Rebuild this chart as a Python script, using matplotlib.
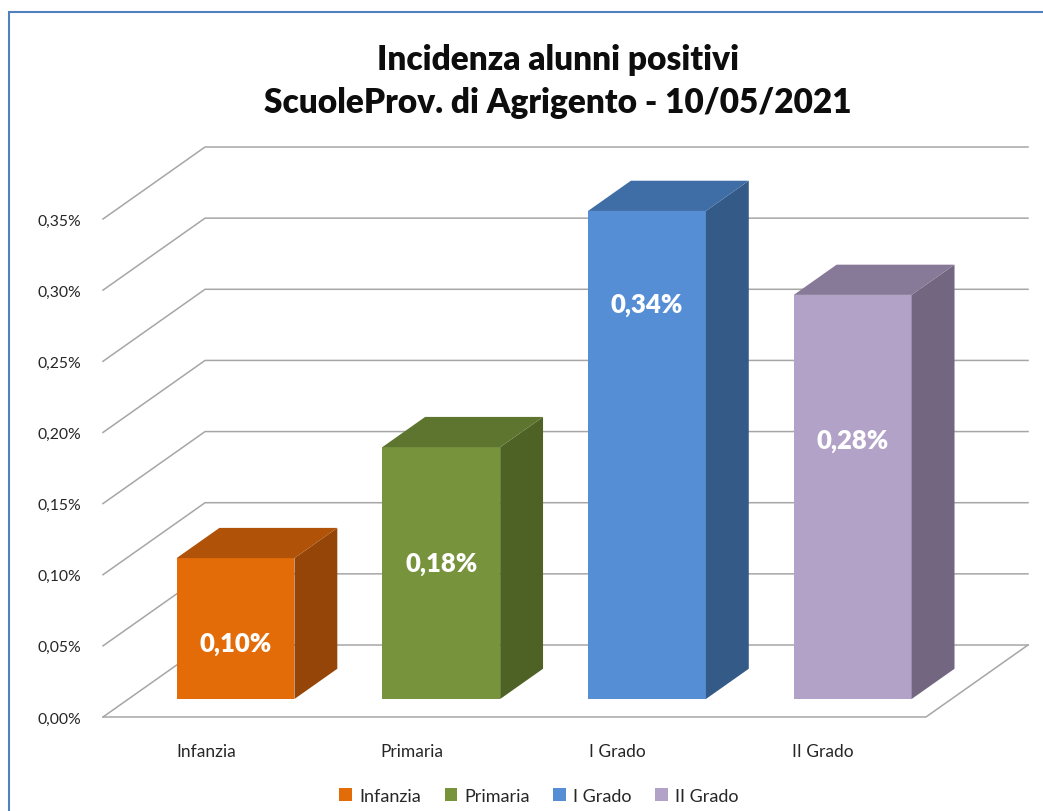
import matplotlib
matplotlib.use("Agg")
import matplotlib.pyplot as plt
from matplotlib.patches import Polygon, Patch, Rectangle

plt.rcParams['font.family'] = ['Lato', 'DejaVu Sans']

categories = ['Infanzia', 'Primaria', 'I Grado', 'II Grado']
values = [0.099, 0.177, 0.343, 0.284]          # percent
y_ticks = [0.00, 0.05, 0.10, 0.15, 0.20, 0.25, 0.30, 0.35]
title_lines = ['Incidenza alunni positivi', 'ScuoleProv. di Agrigento - 10/05/2021']

# colours: front, top, side
front_cols = ['#E36C09', '#77933C', '#558ED5', '#B3A2C7']
top_cols = ['#B05309', '#5E7530', '#3F6DA6', '#877A98']
side_cols = ['#944507', '#4E6226', '#345A88', '#726680']
label_frac = [0.40, 0.54, 0.81, 0.64]   # where Excel put the value labels

# oblique projection of the depth axis, in data units
DX, DY = 0.496, 0.0506
bar_w = 0.573
bar_shift = 0.02
z0, z1 = 0.25, 0.67     # bar front / back depth (fraction)
grid_col = '#a6a6a6'

W, H = 1043, 812
fig = plt.figure(figsize=(W / 100, H / 100), dpi=100)
ax = fig.add_axes([103 / W, (H - 718) / H, (1028 - 103) / W, (718 - 148) / H])
x_lo, x_hi = -0.5, len(categories) - 0.5
ax.set_xlim(x_lo, x_hi + DX)
ax.set_ylim(0, y_ticks[-1] + DY)
for s in ax.spines.values():
    s.set_visible(False)

# walls / gridlines
for v in y_ticks:
    ax.plot([x_lo, x_lo + DX, x_hi + DX], [v, v + DY, v + DY],
            color=grid_col, lw=1.1, zorder=1, clip_on=False)
# floor
ax.plot([x_lo, x_hi, x_hi + DX], [0, 0, DY], color=grid_col, lw=1.1,
        zorder=1, clip_on=False)

for i, v in enumerate(values):
    xa = i - bar_w / 2 + z0 * DX + bar_shift
    xb = i + bar_w / 2 + z0 * DX + bar_shift
    yb = z0 * DY
    yt = v + z0 * DY
    ddx = (z1 - z0) * DX
    ddy = (z1 - z0) * DY
    front = Polygon([(xa, yb), (xb, yb), (xb, yt), (xa, yt)], closed=True,
                    fc=front_cols[i], ec='none', zorder=3)
    side = Polygon([(xb, yb), (xb + ddx, yb + ddy), (xb + ddx, yt + ddy), (xb, yt)],
                   closed=True, fc=side_cols[i], ec='none', zorder=3)
    top = Polygon([(xa, yt), (xb, yt), (xb + ddx, yt + ddy), (xa + ddx, yt + ddy)],
                  closed=True, fc=top_cols[i], ec='none', zorder=3)
    for p in (front, side, top):
        ax.add_patch(p)
    lbl = ('%.2f%%' % v).replace('.', ',')
    ax.text((xa + xb) / 2, yb + v * label_frac[i], lbl, color='white',
            fontsize=18.5, fontweight='heavy', ha='center', va='center', zorder=4)

ax.set_yticks(y_ticks)
ax.set_yticklabels([('%.2f%%' % t).replace('.', ',') for t in y_ticks])
ax.set_xticks(range(len(categories)))
ax.set_xticklabels(categories)
ax.tick_params(axis='y', length=0, pad=16, labelsize=11.3, labelcolor='#262626')
ax.tick_params(axis='x', length=0, pad=19, labelsize=12.5, labelcolor='#262626')

for k, line in enumerate(title_lines):
    fig.text(558 / W, 1 - (60 + 43 * k) / H, line, ha='center', va='center',
             fontsize=24, fontweight='heavy', color='#0d0d0d')

handles = [Patch(fc=c, ec='none') for c in front_cols]
fig.legend(handles, categories, loc='center', bbox_to_anchor=(539 / W, 1 - 797 / H),
           ncol=4, frameon=False, fontsize=13, handlelength=0.7, handleheight=0.7,
           handletextpad=0.4, columnspacing=1.3, labelcolor='#262626')

# chart border
fig.patches.append(Rectangle((9 / W, -0.1), 1.2, 1 - 13 / H + 0.1,
                             transform=fig.transFigure, fill=False,
                             ec='#4F81BD', lw=1.5))

fig.savefig('out.png', dpi=100)
